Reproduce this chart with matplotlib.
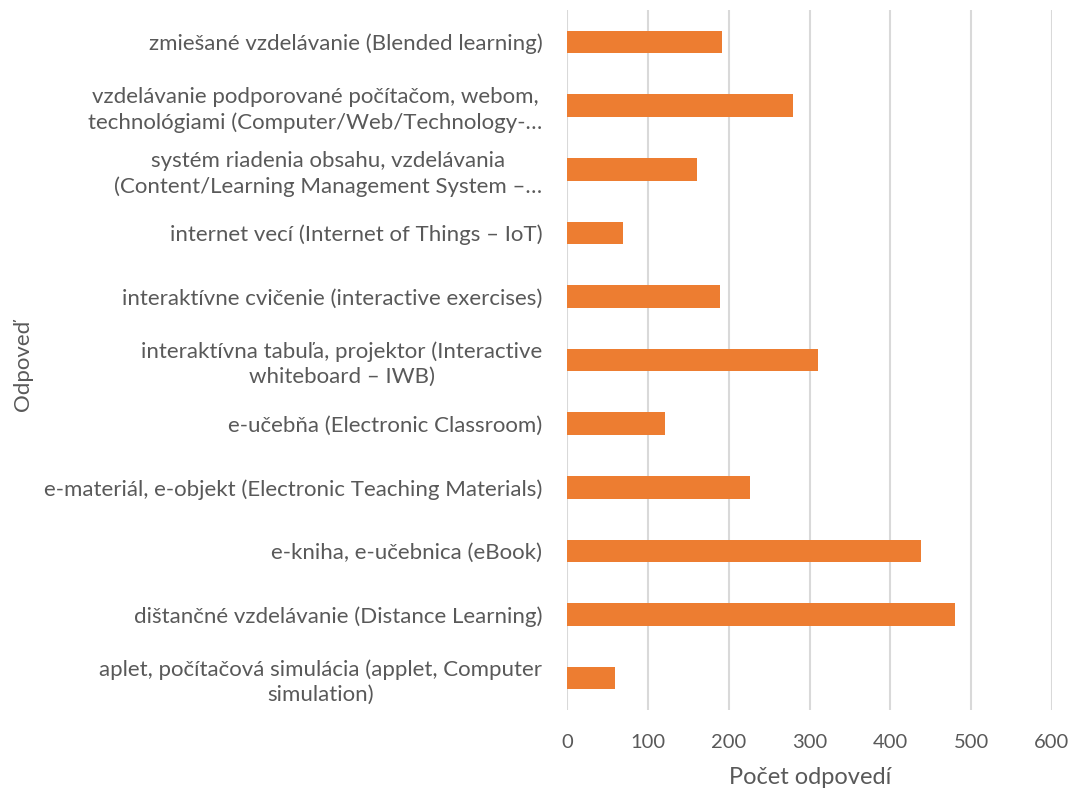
import numpy as np
import matplotlib
matplotlib.use("Agg")
import matplotlib.pyplot as plt

categories = [
    "aplet, počítačová simulácia (applet, Computer\nsimulation)",
    "dištančné vzdelávanie (Distance Learning)",
    "e-kniha, e-učebnica (eBook)",
    "e-materiál, e-objekt (Electronic Teaching Materials)",
    "e-učebňa (Electronic Classroom)",
    "interaktívna tabuľa, projektor (Interactive\nwhiteboard – IWB)",
    "interaktívne cvičenie (interactive exercises)",
    "internet vecí (Internet of Things – IoT)",
    "systém riadenia obsahu, vzdelávania\n(Content/Learning Management System –…",
    "vzdelávanie podporované počítačom, webom,\ntechnológiami (Computer/Web/Technology-…",
    "zmiešané vzdelávanie (Blended learning)",
]
values = [59, 480, 438, 226, 121, 310, 189, 69, 161, 279, 192]
xticks = [0, 100, 200, 300, 400, 500, 600]

text_color = "#595959"
plt.rcParams['font.family'] = ['Lato', 'DejaVu Sans']

fig = plt.figure(figsize=(10.75, 7.95), dpi=100)
ax = fig.add_axes([0.5279, 0.107, 0.4505, 0.880])

y = np.arange(len(categories))
ax.barh(y, values, height=0.355, color="#ED7D31", zorder=3)

ax.set_xlim(0, 600)
ax.set_ylim(-0.5, len(categories) - 0.5)
ax.set_xticks(xticks)
ax.set_xticklabels([str(t) for t in xticks], fontsize=14.5, color=text_color)
ax.set_yticks(y)
ax.set_yticklabels(categories, fontsize=16, color=text_color,
                   multialignment="center", linespacing=1.3)

ax.grid(axis="x", color="#d9d9d9", linewidth=1.5, zorder=0)
for s in ax.spines.values():
    s.set_visible(False)
ax.tick_params(axis="both", length=0)
ax.tick_params(axis="x", pad=17)
ax.tick_params(axis="y", pad=18)

ax.set_xlabel("Počet odpovedí", fontsize=17, color=text_color, labelpad=12)
fig.text(0.021, 0.54, "Odpoveď", rotation=90, fontsize=16, color=text_color,
         ha="center", va="center")

fig.savefig("out.png", dpi=100)
